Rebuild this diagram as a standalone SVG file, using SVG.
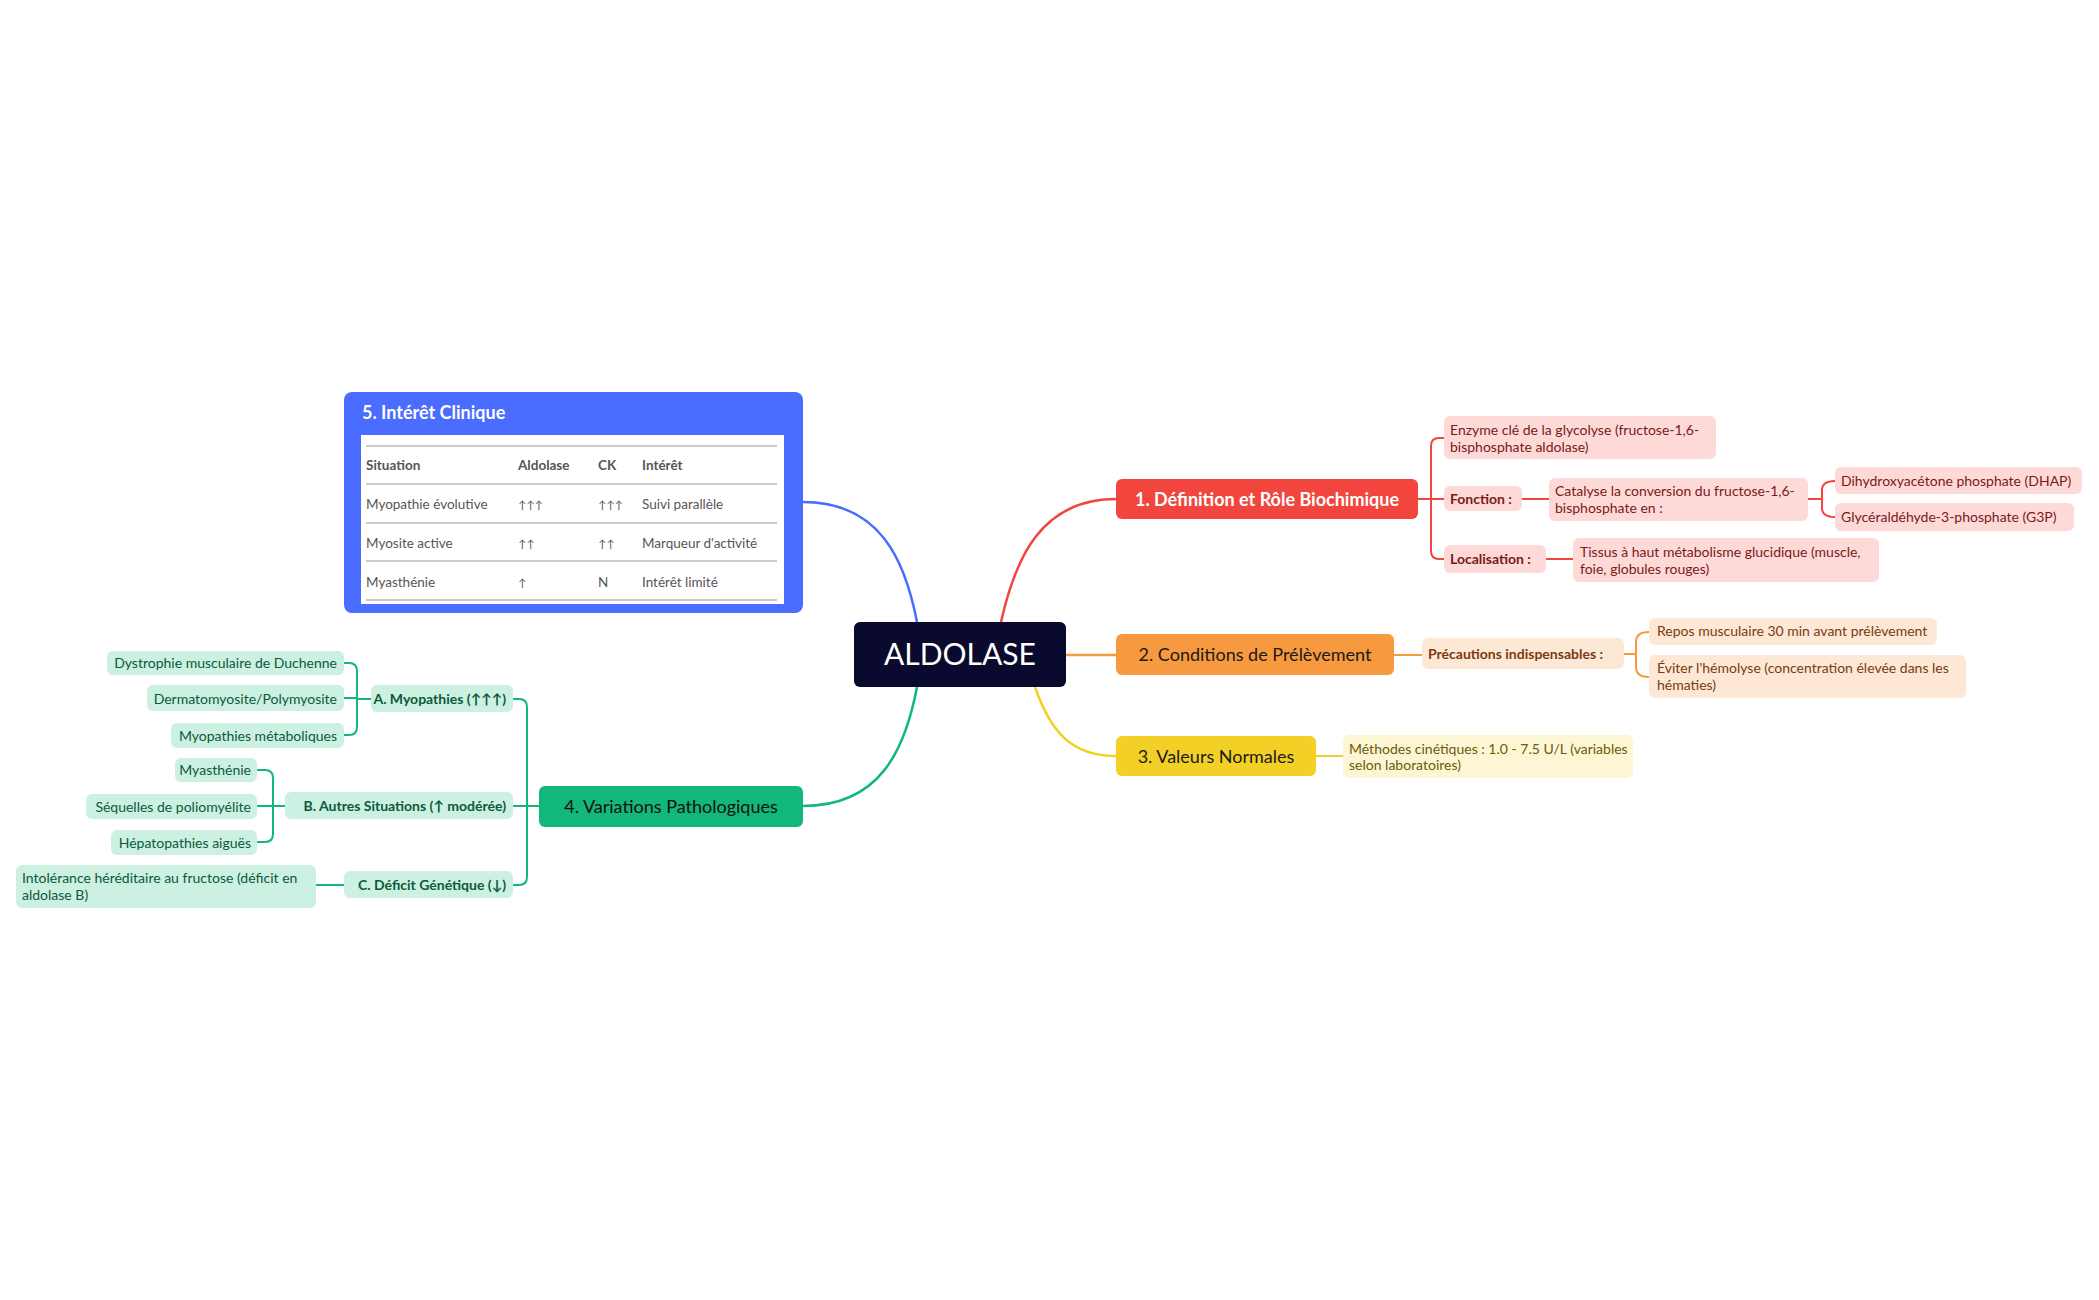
<svg xmlns="http://www.w3.org/2000/svg" width="2099" height="1300" viewBox="0 0 2099 1300">
<style>
text{font-family:Lato,"Open Sans","Liberation Sans",sans-serif}
.s{font-size:14px}
.b{font-weight:bold}
.r rect{fill:#fdd9d8}.r text{fill:#7a1a18}
.o rect{fill:#fde8d6}.o text{fill:#7a3a10}
.y rect{fill:#fdf6d4}.y text{fill:#6b5a08}
.g rect{fill:#ccf0e1}.g text{fill:#0b5a3b}
.m{font-size:18px}
.t{font-size:13.5px;fill:#555}
</style>
<rect width="2099" height="1300" fill="#fff"/>
<g id="connectors" fill="none" stroke-width="2.5">
<path d="M917 622 C905 560 880 502 803 502" stroke="#4a6cff"/>
<path d="M1001 622 C1015 560 1040 499 1116 499" stroke="#f2453d"/>
<path d="M1066 655 H1116" stroke="#f7993f"/>
<path d="M1035 687 C1050 730 1070 756 1116 756" stroke="#f2d026"/>
<path d="M917 687 C905 750 880 806 803 806" stroke="#12b77a"/>
<g stroke="#f2453d" stroke-width="2">
<path d="M1418 499 H1444 M1444 438 H1439 Q1431 438 1431 446 V551 Q1431 559 1439 559 H1444 M1522 499 H1549 M1546 559 H1573 M1808 499 H1822 M1835 481 Q1822 481 1822 490 V508 Q1822 517 1835 517"/>
</g>
<g stroke="#f7993f" stroke-width="2">
<path d="M1394 655 H1422 M1624 654 H1636 M1649 632 Q1636 632 1636 642 V667 Q1636 677 1649 677"/>
</g>
<path d="M1316 756 H1343" stroke="#f2d026" stroke-width="2"/>
<g stroke="#12b77a" stroke-width="2">
<path d="M539 806 H527 M513 699 H519 Q527 699 527 707 V877 Q527 885 519 885 H513 M513 806 H527"/>
<path d="M371 699 H357 M344 663 H349 Q357 663 357 671 V727 Q357 735 349 735 H344 M344 698 H357"/>
<path d="M285 806 H273 M257 770 H265 Q273 770 273 778 V834 Q273 842 265 842 H257 M257 806 H273"/>
<path d="M344 885 H316"/>
</g>
</g>
<g id="center"><rect x="854" y="622" width="212" height="65" rx="6" fill="#0a0a2e"/><text x="960" y="665" text-anchor="middle" font-size="30" fill="#fff">ALDOLASE</text></g>
<g id="n1"><rect x="1116" y="479" width="302" height="40" rx="6" fill="#f2453d"/><text x="1267" y="506" text-anchor="middle" class="m b" fill="#fff">1. Définition et Rôle Biochimique</text></g>
<g id="n2"><rect x="1116" y="634" width="278" height="41" rx="6" fill="#f7993f"/><text x="1255" y="661" text-anchor="middle" class="m" fill="#1a1a1a">2. Conditions de Prélèvement</text></g>
<g id="n3"><rect x="1116" y="736" width="200" height="40" rx="6" fill="#f2d026"/><text x="1216" y="763" text-anchor="middle" class="m" fill="#1a1a1a">3. Valeurs Normales</text></g>
<g id="n4"><rect x="539" y="786" width="264" height="41" rx="6" fill="#12b77a"/><text x="671" y="813" text-anchor="middle" class="m" fill="#111">4. Variations Pathologiques</text></g>
<g id="n5">
<rect x="344" y="392" width="459" height="221" rx="8" fill="#4a6cff"/>
<text x="362" y="419" font-size="18" class="b" fill="#fff">5. Intérêt Clinique</text>
<rect x="361" y="435" width="423" height="169" fill="#fff"/>
<g stroke="#bbb" stroke-width="1.5"><path d="M366 446 H777 M366 484 H777 M366 523 H777 M366 561 H777 M366 600 H777"/></g>
<g class="t"><text x="366" y="470" class="b">Situation</text><text x="518" y="470" class="b">Aldolase</text><text x="598" y="470" class="b">CK</text><text x="642" y="470" class="b">Intérêt</text>
<text x="366" y="509">Myopathie évolutive</text><text x="518" y="509" font-size="11">↑↑↑</text><text x="598" y="509" font-size="11">↑↑↑</text><text x="642" y="509">Suivi parallèle</text>
<text x="366" y="548">Myosite active</text><text x="518" y="548" font-size="11">↑↑</text><text x="598" y="548" font-size="11">↑↑</text><text x="642" y="548">Marqueur d'activité</text>
<text x="366" y="587">Myasthénie</text><text x="518" y="587" font-size="11">↑</text><text x="598" y="587">N</text><text x="642" y="587">Intérêt limité</text></g>
</g>
<g class="r s">
<g id="r1"><rect x="1444" y="416" width="272" height="43" rx="6"/><text x="1450" y="435">Enzyme clé de la glycolyse (fructose-1,6-</text><text x="1450" y="452">bisphosphate aldolase)</text></g>
<g id="r2"><rect x="1444" y="486" width="78" height="25" rx="6"/><text x="1450" y="504" class="b">Fonction :</text></g>
<g id="r3"><rect x="1549" y="478" width="259" height="43" rx="6"/><text x="1555" y="496">Catalyse la conversion du fructose-1,6-</text><text x="1555" y="513">bisphosphate en :</text></g>
<g id="r4"><rect x="1835" y="467" width="247" height="27" rx="6"/><text x="1841" y="486">Dihydroxyacétone phosphate (DHAP)</text></g>
<g id="r5"><rect x="1835" y="503" width="239" height="28" rx="6"/><text x="1841" y="522">Glycéraldéhyde-3-phosphate (G3P)</text></g>
<g id="r6"><rect x="1444" y="545" width="102" height="28" rx="6"/><text x="1450" y="564" class="b">Localisation :</text></g>
<g id="r7"><rect x="1573" y="538" width="306" height="44" rx="6"/><text x="1580" y="557">Tissus à haut métabolisme glucidique (muscle,</text><text x="1580" y="574">foie, globules rouges)</text></g>
</g>
<g class="o s">
<g id="o1"><rect x="1422" y="638" width="202" height="31" rx="6"/><text x="1428" y="659" class="b">Précautions indispensables :</text></g>
<g id="o2"><rect x="1649" y="618" width="288" height="27" rx="6"/><text x="1657" y="636">Repos musculaire 30 min avant prélèvement</text></g>
<g id="o3"><rect x="1649" y="655" width="317" height="43" rx="6"/><text x="1657" y="673">Éviter l'hémolyse (concentration élevée dans les</text><text x="1657" y="690">hématies)</text></g>
</g>
<g class="y s"><g id="y1"><rect x="1343" y="735" width="290" height="43" rx="6"/><text x="1349" y="754">Méthodes cinétiques : 1.0 - 7.5 U/L (variables</text><text x="1349" y="770">selon laboratoires)</text></g></g>
<g class="g s">
<g id="gA"><rect x="371" y="685" width="142" height="27" rx="6"/><text x="506" y="704" text-anchor="end" class="b">A. Myopathies (↑↑↑)</text></g>
<g id="g1"><rect x="107" y="651" width="237" height="24" rx="6"/><text x="337" y="668" text-anchor="end">Dystrophie musculaire de Duchenne</text></g>
<g id="g2"><rect x="147" y="685" width="197" height="26" rx="6"/><text x="337" y="704" text-anchor="end">Dermatomyosite/Polymyosite</text></g>
<g id="g3"><rect x="171" y="723" width="173" height="25" rx="6"/><text x="337" y="741" text-anchor="end">Myopathies métaboliques</text></g>
<g id="gB"><rect x="285" y="792" width="228" height="27" rx="6"/><text x="506" y="811" text-anchor="end" class="b">B. Autres Situations (↑ modérée)</text></g>
<g id="g4"><rect x="175" y="758" width="82" height="24" rx="6"/><text x="251" y="775" text-anchor="end">Myasthénie</text></g>
<g id="g5"><rect x="86" y="794" width="171" height="25" rx="6"/><text x="251" y="812" text-anchor="end">Séquelles de poliomyélite</text></g>
<g id="g6"><rect x="111" y="830" width="146" height="25" rx="6"/><text x="251" y="848" text-anchor="end">Hépatopathies aiguës</text></g>
<g id="gC"><rect x="344" y="871" width="169" height="27" rx="6"/><text x="506" y="890" text-anchor="end" class="b">C. Déficit Génétique (↓)</text></g>
<g id="g7"><rect x="16" y="865" width="300" height="43" rx="6"/><text x="22" y="883">Intolérance héréditaire au fructose (déficit en</text><text x="22" y="900">aldolase B)</text></g>
</g>
</svg>
